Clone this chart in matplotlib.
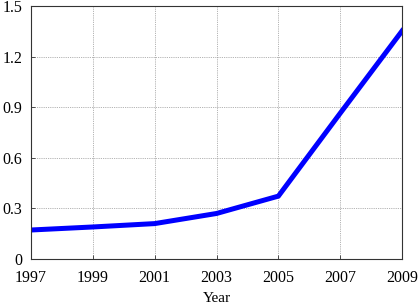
import matplotlib
matplotlib.use("Agg")
import matplotlib.pyplot as plt

years = [1997, 1999, 2001, 2003, 2005, 2007, 2009]
values = [0.172, 0.19, 0.21, 0.27, 0.373, 0.865, 1.353]
xticks = [1997, 1999, 2001, 2003, 2005, 2007, 2009]
yticks = [0, 0.3, 0.6, 0.9, 1.2, 1.5]
yticklabels = ["0", "0.3", "0.6", "0.9", "1.2", "1.5"]

plt.rcParams['font.family'] = ['Liberation Serif', 'DejaVu Serif']
fig = plt.figure(figsize=(4.18, 3.04), dpi=100)
ax = fig.add_axes([0.074, 0.148, 0.888, 0.832])
ax.plot(years, values, color='#0000ff', linewidth=3.6, solid_joinstyle='miter')
ax.set_xlim(1997, 2009)
ax.set_ylim(0, 1.5)
ax.set_xticks(xticks)
ax.set_xticklabels([str(x) for x in xticks])
ax.set_yticks(yticks)
ax.set_yticklabels(yticklabels)
ax.grid(True, linestyle=(0, (1, 1.2)), color='#999999', linewidth=0.6)
ax.tick_params(direction='in', length=3, labelsize=11.5, width=0.6, color='#333333')
ax.tick_params(axis='x', pad=8)
ax.tick_params(axis='y', pad=6)
for s in ax.spines.values():
    s.set_color('#333333')
    s.set_linewidth(0.8)
ax.set_xlabel('Year', fontsize=11, labelpad=4)
fig.savefig('out.png', dpi=100)
